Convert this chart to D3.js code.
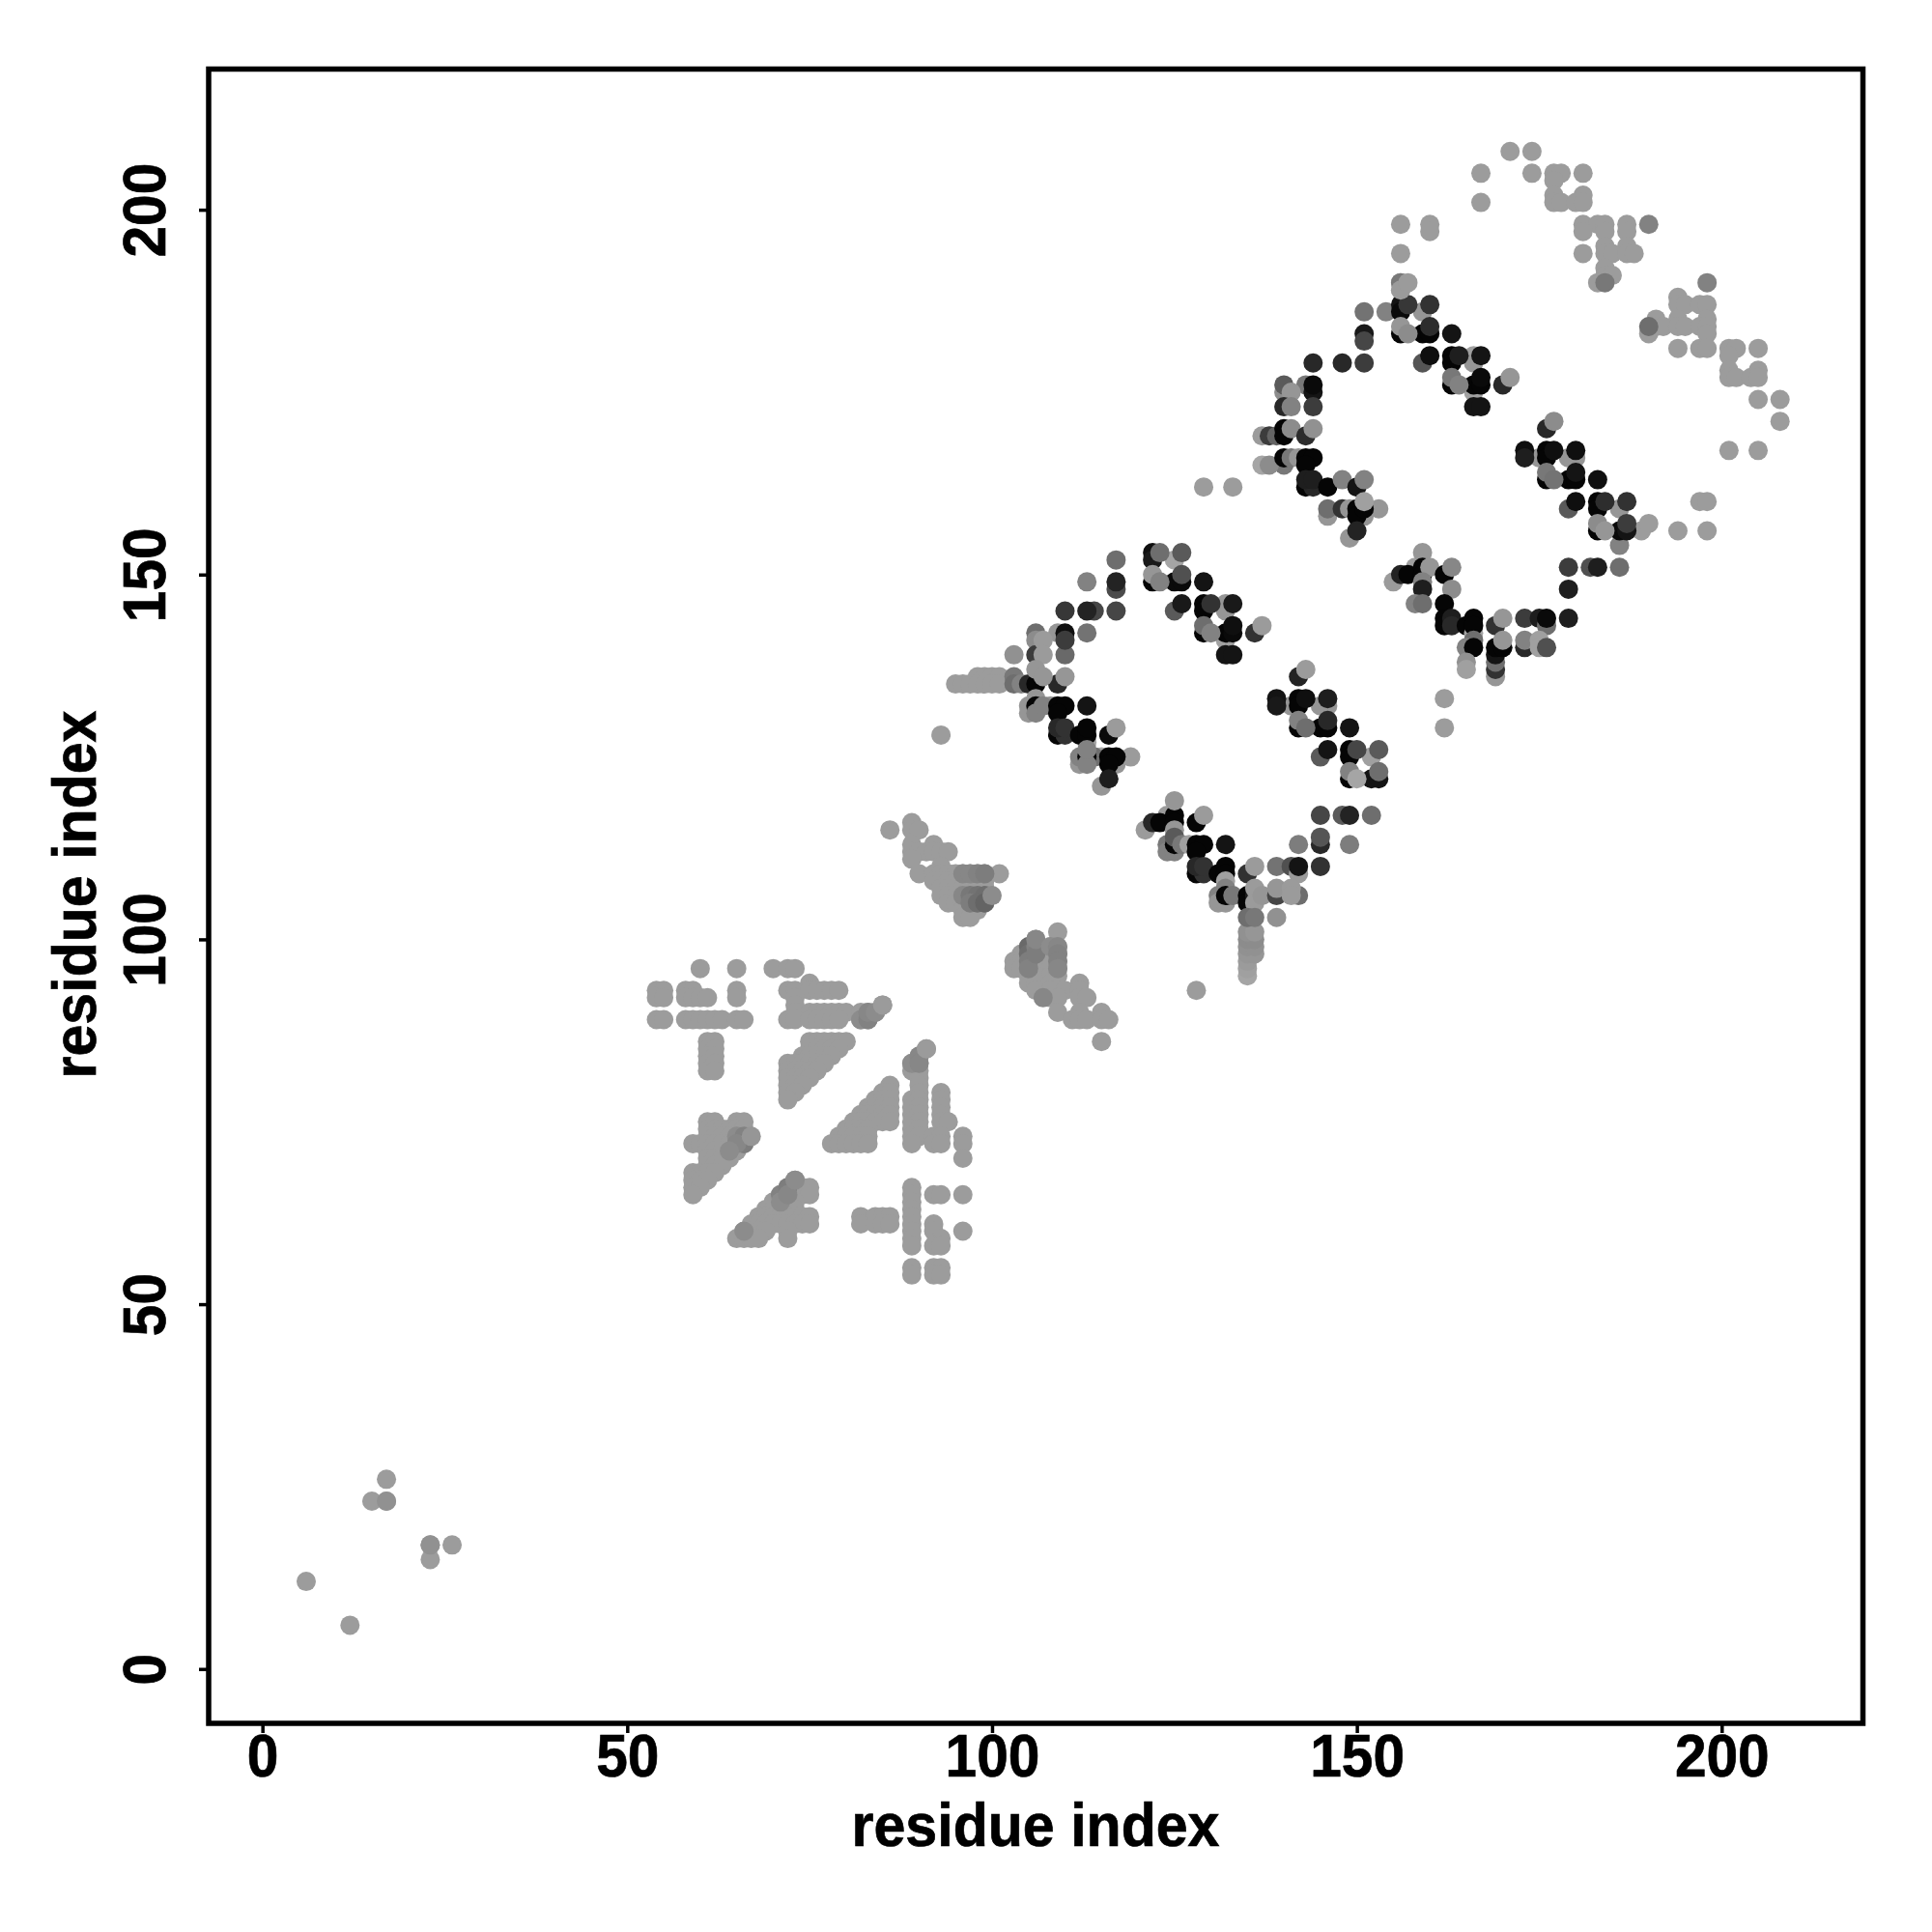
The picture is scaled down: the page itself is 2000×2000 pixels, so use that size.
<!DOCTYPE html>
<html><head><meta charset="utf-8">
<script src="https://cdnjs.cloudflare.com/ajax/libs/d3/7.8.5/d3.min.js"></script>
<style>html,body{margin:0;background:#fff}svg{display:block}text{font-family:"Liberation Sans",Arial,sans-serif;font-weight:bold;fill:#000;stroke:#000;stroke-width:0.7px}</style>
</head><body><svg id="c" width="2000" height="2000"></svg>
<script>
const tickLabels = [0, 50, 100, 150, 200];
const axisTitle = "residue index";

// Contacts with pale shading, as rows: [residue y, [residue x ...]]
const paleRows = [
[96,[60,65,70,72,73]],[94,[75]],[93,[54,55,58,59,65,72,73,75,76,77,78,79]],
[92,[54,55,58,59,60,61,65,73]],[91,[73,85]],[90,[73,75,76,77,78,79,80,82,83,84]],
[89,[54,55,58,59,60,61,62,63,65,66,72,73,75,76,77,78,79,82,83]],
[86,[61,62,75,76,77,78,79,80]],[85,[61,62,75,76,77,78,79,91]],[84,[61,62,74,75,76,77,78,90]],
[83,[61,62,72,73,74,75,76,77,89,90]],[82,[61,62,72,73,74,75,76,89,90]],[81,[72,73,74,75,90]],
[80,[72,73,74,86,90]],[79,[72,73,85,86,90,93]],[78,[72,84,85,86,89,90,93]],
[77,[83,84,85,86,89,90,93]],[76,[82,83,84,85,86,89,90,93]],
[75,[61,62,65,66,81,82,83,84,85,86,89,90,93,94]],[74,[61,62,63,64,65,66,80,81,82,83,89,90]],
[73,[61,62,63,64,65,66,79,80,81,82,83,89,90,92,93,96]],
[72,[59,60,61,62,63,64,65,66,78,79,80,81,82,83,89,92,93,96]],[71,[61,62,63,64,65]],
[70,[61,62,63,64,96]],[69,[61,62,63]],[68,[59,60,61,62]],[67,[59,60,61,73]],
[66,[59,60,72,73,74,75,89]],[65,[59,71,72,73,74,75,89,92,93,96]],[64,[70,71,72,73,89]],
[63,[69,70,71,72,73,89]],[62,[68,69,70,71,72,73,74,75,82,84,85,86,89]],
[61,[67,68,69,70,71,72,73,74,75,82,84,85,86,89,92]],[60,[66,67,68,69,72,89,92,96]],
[59,[65,66,67,68,72,89,93]],[58,[89,92,93]],[55,[89,92,93]],[54,[89,92,93]],
[26,[17]],[23,[15,17]],[17,[23,26]],[15,[23]],[12,[6]],[6,[12]],
[116,[89]],[115,[86,89,90]],[113,[89,92]],[112,[89,90,91,92,93,94]],[111,[89]],[110,[93]],
[109,[90,92,93,94,95,96,97,98,99,101]],[108,[92,93,94,95,96,97,98,99]],[107,[93,94,95,96,97,98,99]],
[106,[93,94,95,96,97,98]],[105,[94,95,96,97,98]],[104,[96,97,98]],[103,[96,97]],
[101,[109]],[100,[106]],[99,[105,106,108,109]],[98,[104,105,106,108,109]],
[97,[103,104,105,106,108,109]],[96,[103,104,105,106,108,109]],[95,[105,106,108,109]],
[94,[105,106,108,112]],[93,[106,108,110,112]],[92,[108,109,112,113]],[90,[109,112,115]],
[89,[111,112,113,115,116]],[86,[115]],[93,[128]],[128,[93]],[136,[98,99,100,101]],[135,[95,96,97,98,99,100,101]],
[162,[129,133]],[133,[162]],[129,[162]],
[208,[171,174]],[205,[167,174,177,178,181]],[204,[177]],[202,[177,181]],[201,[167,177,178,180,181]],
[198,[156,160,181,183,184,187]],[197,[160,181,184,187]],[195,[184,187]],[194,[156,181,184,185,187,188]],
[192,[184]],[191,[184,185]],[190,[156,183]],[189,[156]],
[188,[194]],[187,[194,195,197,198]],[185,[191,194,198]],[184,[191,192,194,195,197,198]],[183,[190,198]],
[181,[194,197,198,201,202,205]],[180,[201]],[178,[201,205]],[177,[201,202,204,205]],
[174,[205,208]],[171,[208]],[167,[201,205]],[160,[197,198]],[156,[189,194,198]],[157,[190]]
];

// Slightly darker overlapping contacts in the pale zones: [x, y, grey]
const shadedPale = [
[65,73,140],[66,73,130],[66,72,125],[65,72,135],[64,71,140],[67,73,150],
[71,65,130],[72,66,125],[71,64,140],[72,65,135],[73,67,140],[66,60,140],
[82,89,140],[83,89,130],[83,90,135],[84,90,140],[85,91,155],
[89,83,140],[90,84,135],[90,83,135],[91,85,155],[23,17,145],[17,23,145],
[96,109,135],[97,109,135],[98,109,130],[99,109,125],
[96,106,135],[97,106,120],[98,106,115],[99,106,110],[97,105,125],[98,105,110],[99,105,100],[100,106,140],
[105,99,105],[105,98,110],[105,97,125],[105,96,130],[106,99,130],[106,98,125],[106,100,135],
[108,99,140],[109,99,135],[109,98,130],[109,97,130],[109,96,135],[107,92,135],
[103,136,120],[103,135,110],[104,135,130],[190,198,130],[198,190,130],[184,190,120],[190,184,110],
[186,154,130],[154,186,130]
];

// Helix-pair blocks, in drawing order: [x, y, grey]
const blockLower = [
[103,139,145],[109,142,150],[113,142,115],[113,149,130],[117,152,110],[110,139,105],[117,148,75],[117,149,35],
[110,145,55],[114,145,70],[113,145,35],[117,145,70],[106,142,110],[106,141,140],[110,142,15],[110,141,60],
[106,139,60],[107,141,155],[107,139,155],[105,135,40],[106,135,5],[109,135,40],[106,137,150],[107,136,150],[110,136,150],
[105,132,150],[105,131,150],[106,133,150],[108,132,150],[113,127,165],[115,125,165],[112,124,150],[112,125,130],[114,125,110],[117,124,150],[119,125,155],[115,121,150],
[106,132,5],[106,131,130],[107,132,130],[109,132,5],[110,132,5],[109,131,5],[113,132,20],
[109,128,5],[110,128,50],[109,129,40],[110,129,50],[112,128,5],[113,128,5],[113,129,5],[116,128,10],
[113,125,5],[113,124,130],[113,126,130],[116,125,5],[117,125,5],[116,124,5],[116,122,30],[117,129,155]
];
const blockA = [
[125,152,165],[132,146,150],[132,145,150],[132,141,160],[125,145,90],
[122,153,15],[122,152,25],[125,149,10],[126,149,10],[129,149,20],[126,146,25],
[129,146,5],[129,145,5],[130,146,50],[133,146,25],[122,149,5],[129,142,5],[132,142,5],[133,142,10],[133,143,15],
[132,139,20],[133,139,20],[136,142,50],
[123,153,110],[126,153,90],[126,150,80],[122,150,150],[123,149,130],[129,143,110],[130,142,130],[137,143,155]
];
const blockB = [
[141,132,150],[145,132,150],[146,132,150],[145,125,90],[152,125,160],
[139,133,20],[139,132,25],[142,133,5],[142,132,5],[143,133,15],[146,133,30],[142,129,5],[145,129,5],[146,129,5],
[149,129,20],[146,126,20],[149,126,5],[149,125,5],[150,126,70],[153,126,90],[149,122,5],[152,122,20],[153,122,20],[142,136,35],
[143,137,155],[146,130,40],[142,130,130],[143,129,110],[153,123,110],[149,123,130],[150,122,165]
];
const blockBase = [
[124,117,155],[121,115,155],[122,116,40],[123,116,5],[125,117,5],[125,116,5],[125,119,150],[128,116,5],[129,117,155],
[125,115,150],[124,113,120],[124,112,130],[125,112,130],[125,113,5],[125,114,90],[126,113,120],[127,113,160],
[128,113,5],[129,113,5],[128,112,5],[132,113,20],
[128,109,5],[129,109,50],[128,110,40],[129,110,50],[131,109,5],[132,110,5],[132,109,5],[132,108,160],[132,107,130],
[131,106,130],[131,105,150],[132,105,150],[132,106,5],[133,106,120],[135,109,50],[136,110,155],
[135,106,5],[135,105,5],[136,106,30],[136,107,155],[136,105,155],[137,106,150],
[135,95,165],[135,96,160],[135,97,155],[135,98,150],[136,98,150],[135,99,145],[136,99,145],[135,100,140],[136,100,140],[135,101,145],[136,101,150],
[135,103,110],[136,103,120],[139,103,145],
[139,110,115],[141,110,80],[142,109,155],[142,110,20],[145,110,50],[139,106,70],[139,107,150],[142,106,110],[141,107,155],[141,106,155],
[142,113,125],[145,113,40],[145,114,85],[145,117,70],[148,117,90],[149,117,35],[152,117,110],[149,113,125]
];
const blockF = [
[137,169,155],[137,165,165],[138,169,60],[139,169,100],[140,175,140],[143,176,120],[146,158,150],[146,159,110],[149,155,150],
[140,176,90],[141,175,150],[144,175,20],[144,176,10],[140,173,40],[141,173,130],[144,173,60],
[140,170,5],[140,169,5],[141,170,140],[143,169,45],[144,170,145],[140,165,120],[138,165,140],[140,166,5],[141,166,120],[142,166,150],
[143,166,5],[144,166,5],[143,165,5],[143,162,5],[144,162,40],[143,163,30],[144,163,30],[146,162,5],[148,163,130],[150,162,20],[151,163,130],
[148,159,50],[149,159,150],[151,158,150],[153,159,150],[150,159,5],[150,158,5],[151,159,5],[151,160,160],[150,156,35],
[151,186,115],[151,183,25],[151,182,70],[151,179,60],[144,179,40],[148,179,40]
];
const blockC = [
[159,186,150],[166,180,160],[166,179,150],[166,175,160],[159,179,85],
[156,187,20],[156,186,10],[159,183,5],[160,183,5],[163,183,20],[160,180,15],
[163,180,5],[163,179,5],[164,180,30],[167,180,20],[156,183,5],[163,176,5],[166,176,5],[167,176,5],[167,177,10],
[166,173,20],[167,173,20],[170,176,40],
[157,187,55],[160,187,50],[160,184,45],[156,184,150],[157,183,140],[163,177,120],[164,176,130],[171,177,150],
[156,190,120],[156,189,155],[157,190,155]
];
const blockD = [
[175,166,150],[179,166,150],[180,166,150],[179,159,90],[186,159,150],
[173,167,15],[173,166,30],[176,167,5],[176,166,5],[177,167,15],[180,167,15],[176,163,5],[179,163,5],[180,163,5],
[183,163,15],[180,160,15],[183,160,5],[183,159,5],[184,160,45],[187,160,50],[183,156,5],[186,156,10],[187,156,20],[176,170,40],
[177,171,140],[180,164,20],[176,164,120],[177,163,115],[187,157,60],[183,157,140],[184,156,150]
];
const blockE = [
[158,151,160],[155,149,155],[156,150,35],[157,150,5],[159,153,150],[159,151,5],[159,150,5],[160,151,150],[162,150,5],[163,151,135],
[159,149,130],[159,148,30],[158,146,130],[159,146,110],[163,148,140],[162,146,5],
[162,144,5],[162,143,5],[163,144,30],[163,143,40],[165,143,5],
[166,142,165],[166,144,5],[166,143,5],[166,141,110],[165,140,130],[166,140,5],[165,138,145],[165,137,160],
[169,136,150],[169,137,50],[169,138,110],[169,139,20],[169,143,50],[170,144,150],[169,140,5],[170,140,5],[170,141,150],
[173,140,40],[173,141,130],[173,144,60],[175,144,30],[176,143,110],[176,144,10],[175,141,160],[175,140,160],[176,140,80],
[179,144,30],[179,148,30],[179,151,60],[182,151,80],[183,151,30],[186,151,110]
];

const L = 216, R = 1928.5, T = 71.5, B = 1784;
const x = d3.scaleLinear().domain([-7.37, 219.36]).range([L, R]);
const y = d3.scaleLinear().domain([-7.45, 219.28]).range([B, T]);

const paleFlat = paleRows.flatMap(([yv, xs]) => xs.map(xv => [xv, yv, 156]));
const contacts = [].concat(paleFlat, shadedPale, blockLower, blockA, blockB, blockBase, blockF, blockC, blockD, blockE);

const svg = d3.select("#c");
svg.append("g").selectAll("circle").data(contacts).join("circle")
  .attr("cx", d => x(d[0])).attr("cy", d => y(d[1])).attr("r", 10)
  .attr("fill", d => d3.rgb(d[2], d[2], d[2]));

const ax = svg.append("g").attr("transform", `translate(0,${B})`)
  .call(d3.axisBottom(x).tickValues(tickLabels).tickSize(10).tickPadding(15));
const ay = svg.append("g").attr("transform", `translate(${L},0)`)
  .call(d3.axisLeft(y).tickValues(tickLabels).tickSize(10).tickPadding(15));
const digitsWidth = d => String(d).length * 32.6;
[ax, ay].forEach(a => {
  a.select(".domain").remove();
  a.selectAll("line").attr("stroke", "#000").attr("stroke-width", 3.5);
  a.selectAll("text").style("font-size", "63px").style("font-family", '"Liberation Sans"').style("font-weight", "bold").attr("fill", "#000")
    .attr("textLength", digitsWidth).attr("lengthAdjust", "spacingAndGlyphs");
});
ax.selectAll("text").attr("y", null).attr("dy", null).attr("y", 55);
ay.selectAll("text").attr("x", null).attr("dy", null).attr("text-anchor", "middle")
  .attr("transform", `translate(${171 - L},0) rotate(-90)`);

svg.append("rect").attr("x", L).attr("y", T).attr("width", R - L).attr("height", B - T)
  .attr("fill", "none").attr("stroke", "#000").attr("stroke-width", 5.5);

svg.append("text").attr("x", 1072).attr("y", 1911).attr("text-anchor", "middle").style("font-size", "63px")
  .attr("textLength", 381).attr("lengthAdjust", "spacingAndGlyphs").text(axisTitle);
svg.append("text").attr("transform", "translate(99,926) rotate(-90)").attr("text-anchor", "middle").style("font-size", "63px")
  .attr("textLength", 381).attr("lengthAdjust", "spacingAndGlyphs").text(axisTitle);
</script></body></html>
